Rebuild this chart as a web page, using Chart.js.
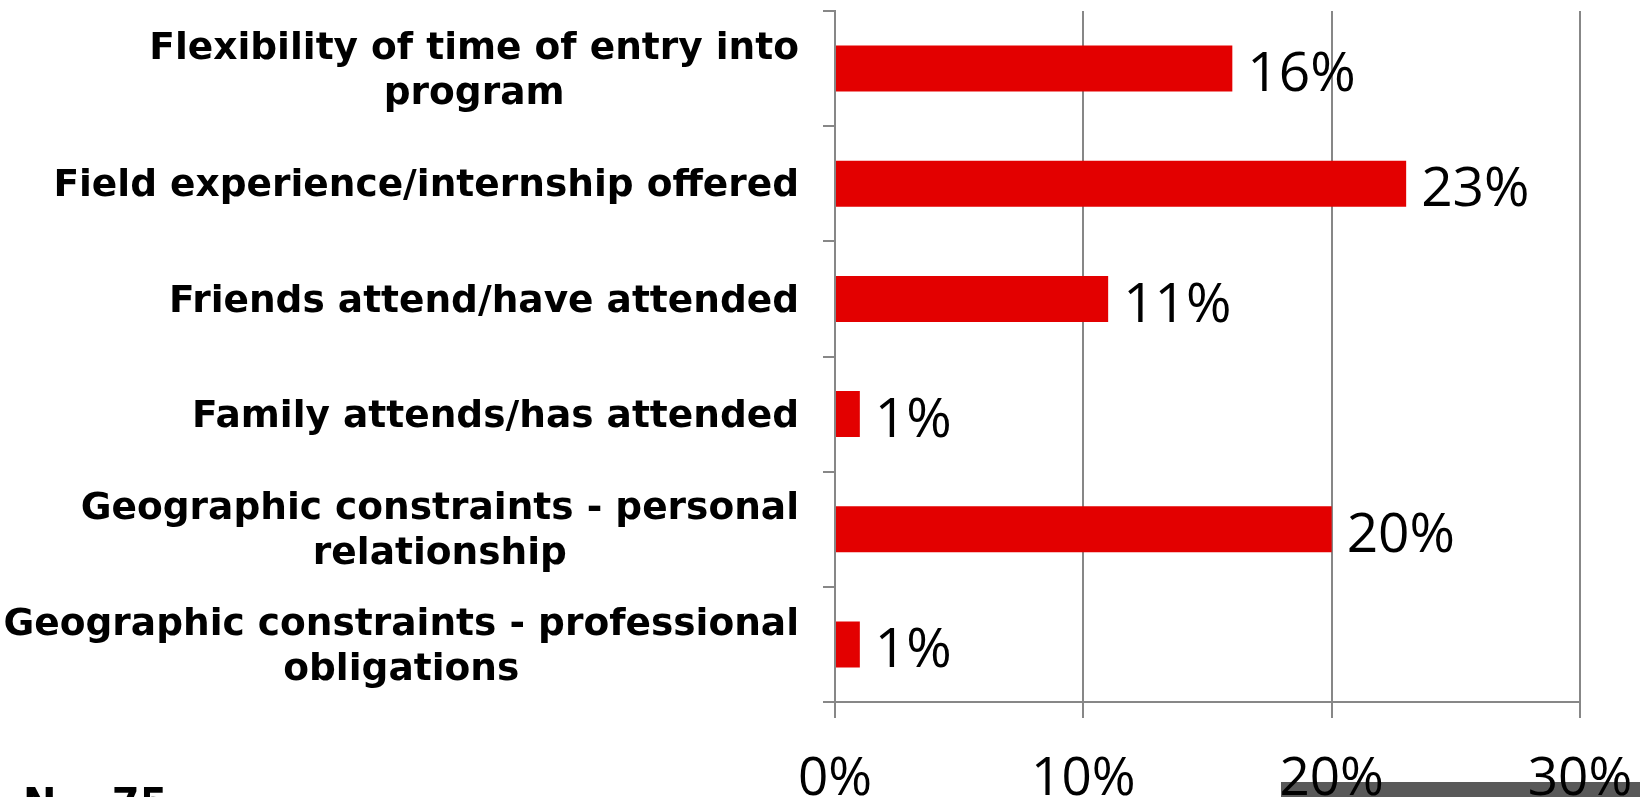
<!DOCTYPE html>
<html>
<head>
<meta charset="utf-8">
<script src="https://cdn.jsdelivr.net/npm/chart.js@4.4.1/dist/chart.umd.min.js"></script>
<style>
  html, body { margin: 0; padding: 0; background: #ffffff; overflow: hidden; }
  #wrap { position: relative; width: 1640px; height: 797px; }
  #grayband { position: absolute; left: 1281px; top: 782px; width: 359px; height: 15px; background: #595959; z-index: 0; }
  #note { position: absolute; left: 23px; top: 779px; font: bold 40px "DejaVu Sans"; color: #000; z-index: 2; line-height: 1.2; white-space: pre; word-spacing: -3px; }
  canvas { position: absolute; left: 0; top: 0; z-index: 1; }
</style>
</head>
<body>
<div id="wrap">
  <div id="grayband"></div>
  <canvas id="c" width="1640" height="797"></canvas>
  <div id="note">N = 75</div>
</div>
<script>
// ---- data ----
const categories = [
  ["Flexibility of time of entry into", "program"],
  ["Field experience/internship offered"],
  ["Friends attend/have attended"],
  ["Family attends/has attended"],
  ["Geographic constraints - personal", "relationship"],
  ["Geographic constraints - professional", "obligations"]
];
const values = [16, 23, 11, 1, 20, 1];
const xTickValues = [0, 10, 20, 30];

const BAR_RED = '#E30000';
const GRID = '#878787';
const LABEL_FONT = 'bold 37.5px "DejaVu Sans"';
const LABEL_LH = 45;
const VALUE_FONT = '55px "Open Sans"';

const categoryLabelsPlugin = {
  id: 'categoryLabels',
  afterDraw(chart) {
    const ys = chart.scales.y;
    const ctx = chart.ctx;
    ctx.save();
    ctx.font = LABEL_FONT;
    ctx.fillStyle = '#000';
    ctx.textAlign = 'center';
    ctx.textBaseline = 'middle';
    const right = ys.right - 36;
    categories.forEach((lines, i) => {
      const w = Math.max(...lines.map(l => ctx.measureText(l).width));
      const cx = right - w / 2;
      const yc = ys.getPixelForValue(i) + 3;
      const y0 = yc - (lines.length - 1) * LABEL_LH / 2;
      lines.forEach((l, j) => ctx.fillText(l, cx, y0 + j * LABEL_LH));
    });
    ctx.restore();
  }
};

const valueLabelsPlugin = {
  id: 'valueLabels',
  afterDatasetsDraw(chart) {
    const ctx = chart.ctx;
    const meta = chart.getDatasetMeta(0);
    ctx.save();
    ctx.font = VALUE_FONT;
    ctx.fillStyle = '#000';
    ctx.textAlign = 'left';
    ctx.textBaseline = 'middle';
    meta.data.forEach((bar, i) => {
      ctx.fillText(values[i] + '%', bar.x + 15, bar.y + 7);
    });
    ctx.restore();
  }
};

new Chart(document.getElementById('c'), {
  type: 'bar',
  data: {
    labels: categories,
    datasets: [{
      data: values,
      backgroundColor: BAR_RED,
      borderWidth: 0,
      barPercentage: 0.4,
      categoryPercentage: 1.0
    }]
  },
  options: {
    indexAxis: 'y',
    responsive: false,
    animation: false,
    devicePixelRatio: 1,
    layout: { padding: { top: 11, right: 60, bottom: 0, left: 0 } },
    plugins: { legend: { display: false }, tooltip: { enabled: false } },
    scales: {
      x: {
        min: 0, max: 30,
        afterBuildTicks(scale) { scale.ticks = xTickValues.map(v => ({ value: v })); },
        afterFit(scale) { scale.height = 95; scale.paddingRight = 0; scale.paddingLeft = 0; },
        grid: { color: GRID, lineWidth: 2, drawTicks: true, tickLength: 16, tickColor: GRID },
        border: { display: true, color: GRID, width: 2 },
        ticks: {
          callback: v => v + '%',
          color: '#000',
          font: { family: 'Open Sans', size: 53 },
          padding: 30,
          maxRotation: 0
        }
      },
      y: {
        afterFit(scale) { scale.width = 835; },
        grid: { offset: true, drawOnChartArea: false, drawTicks: true, tickLength: 12, color: GRID, lineWidth: 2 },
        border: { display: true, color: GRID, width: 2 },
        ticks: { display: false }
      }
    }
  },
  plugins: [categoryLabelsPlugin, valueLabelsPlugin]
});
</script>
</body>
</html>
